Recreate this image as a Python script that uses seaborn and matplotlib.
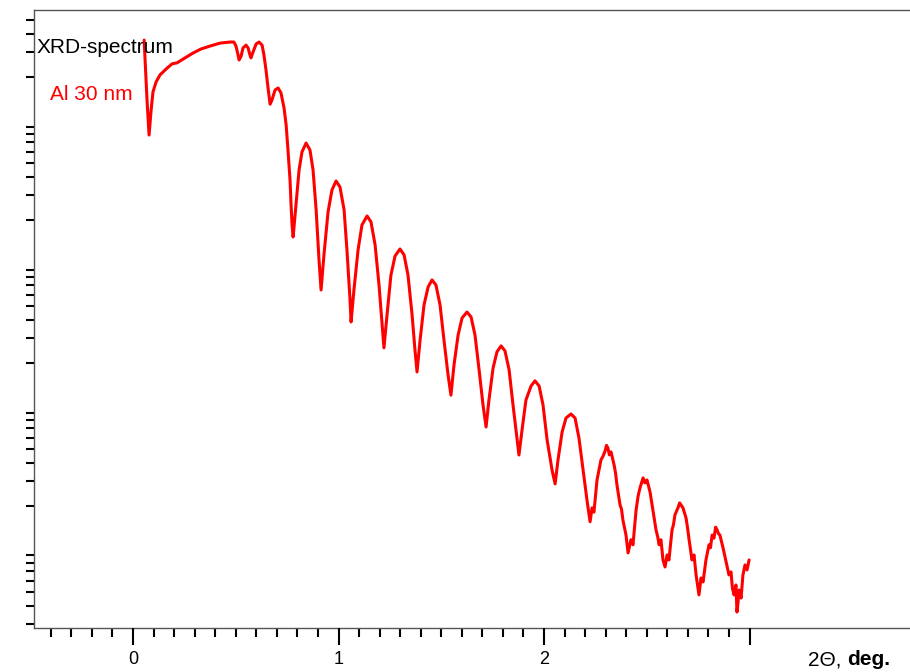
"""
XRD reflectivity spectrum of a 30 nm Al film (log intensity vs 2-theta).
"""

import matplotlib
matplotlib.use("Agg")
import matplotlib.pyplot as plt
import matplotlib.ticker as mticker
import pandas as pd
import seaborn as sns


# 2-theta in degrees
two_theta = [
    0.054, 0.068, 0.078, 0.088, 0.097, 0.112, 0.131, 0.161, 0.190, 0.214,
    0.253, 0.292, 0.331, 0.375, 0.423, 0.472, 0.491, 0.501, 0.511, 0.516,
    0.526, 0.535, 0.550, 0.560, 0.569, 0.574, 0.584, 0.599, 0.613, 0.628,
    0.637, 0.647, 0.657, 0.667, 0.676, 0.691, 0.706, 0.720, 0.735, 0.745,
    0.754, 0.764, 0.769, 0.774, 0.779,
    0.793, 0.808, 0.822, 0.842, 0.861, 0.876, 0.891, 0.905, 0.915,
    0.929, 0.949, 0.968, 0.988, 1.007, 1.027, 1.041, 1.056, 1.061,
    1.075, 1.095, 1.114, 1.139, 1.158, 1.178, 1.197, 1.212, 1.221,
    1.236, 1.255, 1.275, 1.299, 1.319, 1.338, 1.358, 1.372, 1.382,
    1.397, 1.416, 1.436, 1.455, 1.474, 1.494, 1.513, 1.533, 1.547,
    1.562, 1.582, 1.601, 1.625, 1.645, 1.664, 1.684, 1.703, 1.718,
    1.732, 1.752, 1.771, 1.791, 1.810, 1.830, 1.849, 1.869, 1.878,
    1.893, 1.912, 1.937, 1.956, 1.976, 1.995, 2.015, 2.039, 2.054,
    2.068, 2.088, 2.107, 2.131, 2.151, 2.170, 2.190, 2.209, 2.224,
    2.234, 2.243, 2.258, 2.277, 2.287, 2.297, 2.304, 2.311, 2.318,
    2.326, 2.341, 2.348, 2.355, 2.370, 2.377, 2.384, 2.399, 2.409,
    2.423, 2.433, 2.448, 2.458, 2.467, 2.482, 2.491, 2.501, 2.508,
    2.516, 2.530, 2.545, 2.553, 2.560, 2.569, 2.579, 2.589,
    2.599, 2.608, 2.623, 2.630, 2.637, 2.652, 2.660, 2.667, 2.676,
    2.691, 2.698, 2.706, 2.720, 2.730, 2.740, 2.754,
    2.764, 2.774, 2.788, 2.803, 2.810, 2.818, 2.827, 2.835, 2.842,
    2.849, 2.856, 2.871, 2.886, 2.893, 2.900, 2.910, 2.917, 2.925,
    2.934, 2.939,
    2.944, 2.949, 2.959, 2.968, 2.978, 2.988, 2.998,
]

# intensity, arbitrary counts
intensity = [
    36200, 13800, 7850, 11750, 15700, 18450, 20650, 22750, 24700, 25100,
    27200, 29400, 31400, 32900, 34500, 35100, 35100, 32900, 28500, 26300,
    28000, 31900, 33400, 31900, 28500, 27200, 29900, 34000, 35100, 33400,
    28500, 22400, 16750, 12900, 13800, 16200, 16750, 15450, 12100, 9230,
    6170, 3800, 2545, 1845, 1520,
    2545, 4470, 5970, 6900, 6170, 4470, 2350, 1050, 647,
    1138, 2275, 3240, 3745, 3400, 2350, 1233, 551, 387,
    647, 1233, 1845, 2132, 1936, 1336, 702, 368, 255,
    433, 824, 1119, 1253, 1138, 824, 433, 246, 173,
    290, 509, 680, 761, 702, 509, 290, 165, 119,
    194, 314, 412, 454, 419, 314, 179, 102, 71.3,
    110, 184, 239, 263, 243, 179, 102, 57.8, 45.4,
    67.9, 110, 138, 150, 138, 102, 57.8, 35.7, 28.5,
    41.9, 65.8, 82.4, 87.9, 82.4, 59.7, 35.7, 22.0, 15.5,
    19.4, 18.1, 30.4, 41.9, 44.5, 48.4, 53.0, 50.8, 45.5,
    47.7, 38.7, 34.0, 28.0, 20.3, 19.0, 15.9, 12.5, 9.38,
    11.6, 10.7, 18.7, 23.5, 26.7, 31.4, 29.0, 30.4, 27.8,
    25.0, 18.7, 13.6, 12.2, 10.7, 11.6, 8.38, 7.48,
    9.08, 8.38, 13.6, 14.8, 17.3, 19.4, 21.0, 20.3, 19.4,
    16.5, 14.2, 11.6, 8.38, 9.08, 6.58, 4.77,
    6.27, 5.88, 8.38, 10.7, 10.2, 12.5, 11.9, 14.2, 13.6,
    12.8, 12.5, 10.2, 8.11, 7.30, 6.58, 6.90, 5.30, 4.77,
    5.60, 3.62,
    4.20, 5.16, 4.54, 6.58, 7.73, 7.13, 8.38,
]

# short ticks every 0.1 deg, long labelled ticks on whole degrees
x_short_ticks = [-0.4, -0.3, -0.2, -0.1, 0.1, 0.2, 0.3, 0.4, 0.5, 0.6, 0.7,
                 0.8, 0.9, 1.1, 1.2, 1.3, 1.4, 1.5, 1.6, 1.7, 1.8, 1.9, 2.1,
                 2.2, 2.3, 2.4, 2.5, 2.6, 2.7, 2.8, 2.9]
x_long_ticks = [0, 1, 2, 3]
x_long_labels = ["0", "1", "2", ""]

title_text = "XRD-spectrum"
sample_text = "Al 30 nm"

XLIM = (-0.482, 3.781)


def main() -> None:
    sns.set_style("ticks")
    plt.rcParams["font.family"] = ["Liberation Sans", "DejaVu Sans"]

    df = pd.DataFrame({"two_theta": two_theta, "intensity": intensity})

    fig = plt.figure(figsize=(9.10, 6.72), dpi=100)
    ax = fig.add_axes([34 / 910, 1 - 628 / 672, 1 - 34 / 910, (628 - 10) / 672])

    sns.lineplot(
        data=df,
        x="two_theta",
        y="intensity",
        ax=ax,
        color="#ff0000",
        linewidth=2.2,
        estimator=None,
        sort=False,
    )

    ax.set_yscale("log")
    ax.set_xlim(*XLIM)
    ax.set_ylim(2.80, 58800)

    ax.yaxis.set_major_locator(mticker.LogLocator(base=10, numticks=10))
    ax.yaxis.set_minor_locator(
        mticker.LogLocator(base=10, subs=[2, 3, 4, 5, 6, 7, 8, 9], numticks=20)
    )
    ax.yaxis.set_major_formatter(mticker.NullFormatter())
    ax.yaxis.set_minor_formatter(mticker.NullFormatter())
    ax.tick_params(axis="y", which="major", left=True, right=False,
                   direction="out", length=16.5, width=1.5, color="black")
    ax.tick_params(axis="y", which="minor", left=True, right=False,
                   direction="out", length=5.8, width=1.5, color="black")

    # short 0.1-degree ticks on the main axes
    ax.set_xticks(x_short_ticks, labels=["" for _ in x_short_ticks])
    ax.xaxis.set_minor_locator(mticker.NullLocator())
    ax.tick_params(axis="x", which="major", bottom=True, top=False,
                   direction="out", length=6.3, width=1.5, color="black")

    # long whole-degree ticks with labels on a twin x axis
    ax2 = ax.twiny()
    ax2.set_xlim(*XLIM)
    ax2.xaxis.set_ticks_position("bottom")
    ax2.set_xticks(x_long_ticks, labels=x_long_labels)
    ax2.xaxis.set_minor_locator(mticker.NullLocator())
    ax2.tick_params(axis="x", which="major", bottom=True, top=False,
                    labelbottom=True, labeltop=False, direction="out",
                    length=12.2, width=1.5, color="black",
                    labelsize=13, labelcolor="black", pad=4)
    ax2.set_yticks([])
    for side in ("left", "right", "top", "bottom"):
        ax2.spines[side].set_visible(False)
    ax2.patch.set_visible(False)

    for side in ("left", "bottom", "top"):
        ax.spines[side].set_visible(True)
        ax.spines[side].set_color("#555555")
        ax.spines[side].set_linewidth(1.0)
    ax.spines["right"].set_visible(False)

    ax.set_xlabel("")
    ax.set_ylabel("")

    ax.text((37 - 34) / 876, 1 - (53 - 10) / 618, title_text,
            transform=ax.transAxes, fontsize=15, color="black",
            ha="left", va="baseline")
    ax.text((50 - 34) / 876, 1 - (100 - 10) / 618, sample_text,
            transform=ax.transAxes, fontsize=15, color="#ff0000",
            ha="left", va="baseline")

    # axis label: "2Θ, " regular followed by bold "deg."
    t1 = fig.text(808 / 910, 1 - 665 / 672, "2\u0398, ", fontsize=15,
                  color="black", ha="left", va="baseline")
    fig.canvas.draw()
    bb = t1.get_window_extent()
    fig.text(bb.x1 / fig.bbox.width, 1 - 665 / 672, "deg.", fontsize=15,
             fontweight="bold", color="black", ha="left", va="baseline")

    fig.savefig("out.png", dpi=100)
    plt.close(fig)


if __name__ == "__main__":
    main()
